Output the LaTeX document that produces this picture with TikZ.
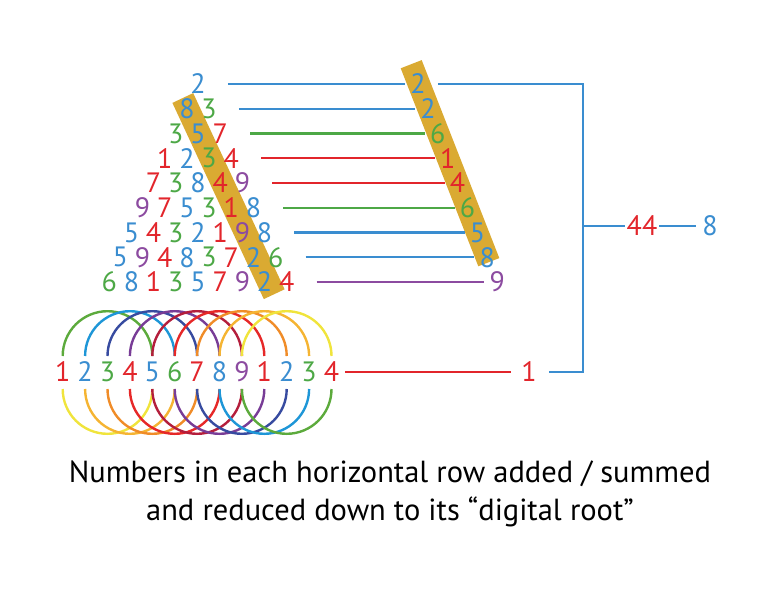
\documentclass[tikz,border=0pt]{standalone}
\usepackage{fontspec}
\setmainfont{PT Sans}
\definecolor{dred}{RGB}{226,37,43}
\definecolor{dblue}{RGB}{58,141,208}
\definecolor{dgreen}{RGB}{77,168,70}
\definecolor{dpurple}{RGB}{140,75,160}
\definecolor{gold}{RGB}{218,170,50}
\colorlet{dig1}{dred}\colorlet{dig2}{dblue}\colorlet{dig3}{dgreen}
\colorlet{dig4}{dred}\colorlet{dig5}{dblue}\colorlet{dig6}{dgreen}
\colorlet{dig7}{dred}\colorlet{dig8}{dblue}\colorlet{dig9}{dpurple}
\definecolor{cA}{RGB}{92,170,60}
\definecolor{cB}{RGB}{30,150,215}
\definecolor{cC}{RGB}{55,75,160}
\definecolor{cD}{RGB}{120,60,150}
\definecolor{cE}{RGB}{180,30,60}
\definecolor{cF}{RGB}{230,40,40}
\definecolor{cG}{RGB}{240,140,40}
\definecolor{cH}{RGB}{245,180,50}
\definecolor{cI}{RGB}{240,228,60}
\tikzset{
  dig/.style={font=\fontsize{28}{34}\selectfont, inner sep=0pt, anchor=center},
  conn/.style={line width=2.4pt},
  coil/.style={line width=2.4pt},
  caption/.style={font=\fontsize{30.5}{38}\selectfont, align=center, inner sep=0pt}
}
\begin{document}
\begin{tikzpicture}[x=1pt,y=1pt]
\useasboundingbox (0,0) rectangle (768,-602);
% gold bands
\fill[gold] (172.4,-102.9) -- (193.2,-93.1) -- (284.6,-289.3) -- (263.8,-299.1) -- cycle;
\fill[gold] (400.7,-68.3) -- (421.7,-60.1) -- (499.3,-258.1) -- (478.3,-266.3) -- cycle;
% triangle
\foreach \row [count=\r] in {{2},{8,3},{3,5,7},{1,2,3,4},{7,3,8,4,9},{9,7,5,3,1,8},{5,4,3,2,1,9,8},{5,9,4,8,3,7,2,6},{6,8,1,3,5,7,9,2,4}}{
  \foreach \d [count=\i] in \row {
    \pgfmathsetmacro\xx{198+(\i-(\r+1)/2)*22.2}
    \pgfmathsetmacro\yy{-(84+24.75*(\r-1))}
    \node[dig, text=dig\d] (t-\r-\i) at (\xx,\yy) {\d};
  }
}
% right column and row connectors
\foreach \v [count=\r] in {2,2,6,1,4,6,5,8,9}{
  \pgfmathsetmacro\xx{418+9.9*(\r-1)}
  \pgfmathsetmacro\yy{-(84+24.75*(\r-1))}
  \node[dig, text=dig\v] (c-\r) at (\xx,\yy) {\v};
  \draw[conn, dig\v, shorten <=22pt, shorten >=5pt] (t-\r-\r.east) -- (c-\r.west);
}
% coils
\foreach \ct/\cb [count=\k from 0] in {cA/cI,cB/cH,cC/cG,cD/cF,cE/cE,cF/cD,cG/cC,cH/cB,cI/cA}{
  \pgfmathsetmacro\xx{62.7+22.4*\k}
  \draw[coil, \ct] (\xx,-356) arc (180:0:44.8);
  \draw[coil, \cb] (\xx,-389) arc (180:360:44.8);
}
% bottom row
\foreach \d [count=\i] in {1,2,3,4,5,6,7,8,9,1,2,3,4}{
  \pgfmathsetmacro\xx{62.7+22.4*(\i-1)}
  \node[dig, text=dig\d] (b-\i) at (\xx,-372) {\d};
}
\node[dig, text=dred] (one) at (529,-372) {1};
\draw[conn, dred, shorten <=6pt, shorten >=10pt] (b-13.east) -- (one.west);
% bracket
\coordinate (bt) at (583,-84);
\coordinate (bb) at (583,-372);
\node[dig, text=dred] (n44) at (642,-226) {44};
\node[dig, text=dblue] (n8) at (710,-226) {8};
\coordinate (bm) at (583,-226);
\draw[conn, dblue, shorten <=12pt, shorten >=12pt] (c-1.east) -- (bt) -- (bb) -- (one.east);
\draw[conn, dblue, shorten >=2pt] (bm) -- (n44.west);
\draw[conn, dblue, shorten <=2pt, shorten >=6pt] (n44.east) -- (n8.west);
% caption
\node[caption] (cap) at (390,-494) {Numbers in each horizontal row added / summed\\and reduced down to its \textquotedblleft digital root\textquotedblright};
\end{tikzpicture}
\end{document}
